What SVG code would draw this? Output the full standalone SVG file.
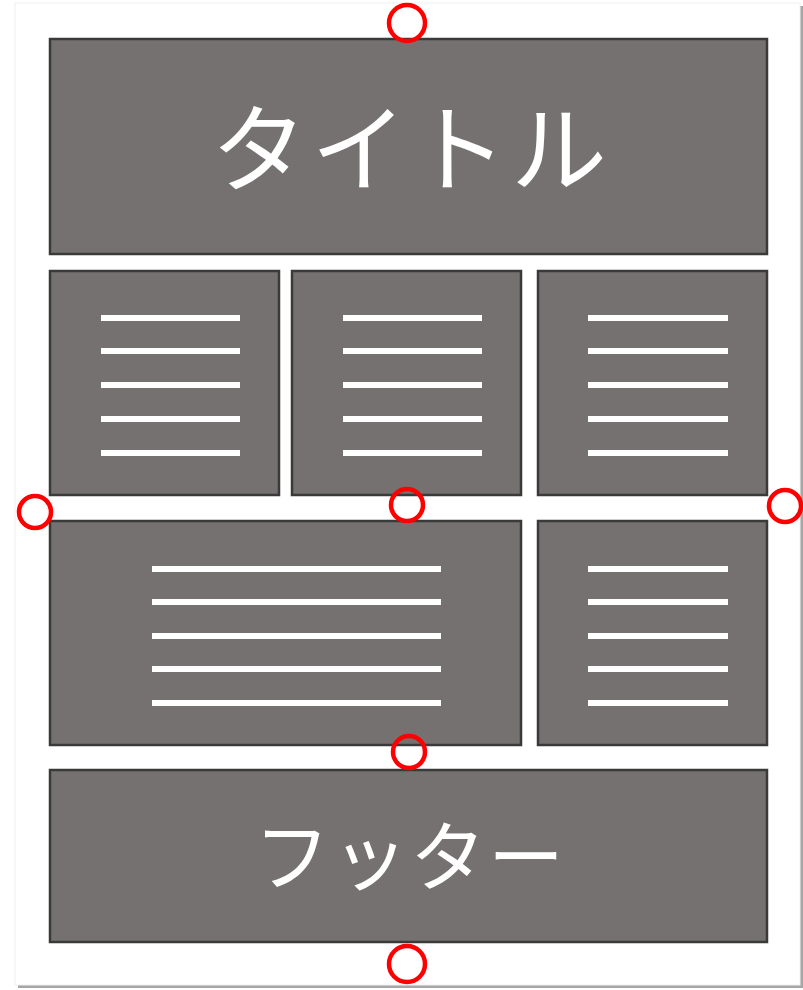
<svg xmlns="http://www.w3.org/2000/svg" width="803" height="990" viewBox="0 0 803 990">
<style>
.box{fill:#757170;stroke:#3b3a3a;stroke-width:2.5}
.ln{stroke:#ffffff;stroke-width:6;fill:none}
.mk{fill:none;stroke:#ff0000;stroke-width:4.5}
.lbl{fill:#ffffff;font-family:"Noto Sans CJK JP","Noto Sans",sans-serif;text-anchor:middle}
</style>
<rect x="0" y="0" width="803" height="990" fill="#ffffff"/>
<g id="page">
<rect x="18" y="6" width="785" height="982" fill="#a6a6a6"/>
<rect x="15" y="3" width="785" height="982" fill="#ffffff" stroke="#f0f0f0" stroke-width="1"/>
</g>
<g id="title">
<rect class="box" x="50" y="39" width="717" height="215"/>
<text class="lbl" x="411" y="184" font-size="96" letter-spacing="4">タイトル</text>
</g>
<g id="block1">
<rect class="box" x="50" y="271" width="229" height="224"/>
<path class="ln" d="M101 318H240M101 351H240M101 385H240M101 419H240M101 453H240"/>
</g>
<g id="block2">
<rect class="box" x="292" y="271" width="229" height="224"/>
<path class="ln" d="M343 318H482M343 351H482M343 385H482M343 419H482M343 453H482"/>
</g>
<g id="block3">
<rect class="box" x="538" y="271" width="229" height="224"/>
<path class="ln" d="M588 318H728M588 351H728M588 385H728M588 419H728M588 453H728"/>
</g>
<g id="block4">
<rect class="box" x="50" y="521" width="471" height="224"/>
<path class="ln" d="M152 569H441M152 602H441M152 636H441M152 669H441M152 703H441"/>
</g>
<g id="block5">
<rect class="box" x="538" y="521" width="229" height="224"/>
<path class="ln" d="M588 569H728M588 602H728M588 636H728M588 669H728M588 703H728"/>
</g>
<g id="footer">
<rect class="box" x="50" y="770" width="717" height="172"/>
<text class="lbl" x="410" y="885" font-size="76" letter-spacing="2">フッター</text>
</g>
<g id="markers">
<circle class="mk" cx="407" cy="23" r="18"/>
<circle class="mk" cx="35" cy="512" r="16"/>
<circle class="mk" cx="407" cy="505" r="16"/>
<circle class="mk" cx="785" cy="506" r="16"/>
<circle class="mk" cx="409" cy="752" r="16"/>
<circle class="mk" cx="407" cy="964" r="18"/>
</g>
</svg>
